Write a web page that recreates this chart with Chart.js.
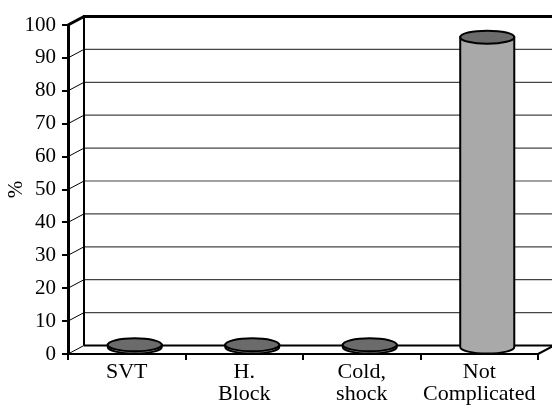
<!DOCTYPE html>
<html>
<head>
<meta charset="utf-8">
<script src="https://cdn.jsdelivr.net/npm/chart.js@4"></script>
<style>
  body { margin: 0; background: #fff; }
  canvas { display: block; }
</style>
</head>
<body>
<canvas id="myChart" width="552" height="406"></canvas>
<script>
const categories = [['SVT'], ['H.', 'Block'], ['Cold,', 'shock'], ['Not', 'Complicated']];
const percentValues = [1, 1, 1, 94.5];
const yMin = 0;
const yMax = 100;
const yStep = 10;

// depth of the 3d box (back wall offset)
const depthX = 16;
const depthY = -8.5;

// back wall, left wall and floor
const frame3d = {
  id: 'frame3d',
  beforeDatasetsDraw(chart) {
    const ctx = chart.ctx;
    const area = chart.chartArea;
    const y = chart.scales.y;
    const right = chart.width + 5;
    ctx.save();
    ctx.lineCap = 'butt';

    // gridlines on back wall + diagonals on left wall
    y.ticks.forEach(t => {
      const py = y.getPixelForValue(t.value);
      if (t.value > yMin && t.value < yMax) {
        ctx.strokeStyle = '#444';
        ctx.lineWidth = 1.2;
        ctx.beginPath();
        ctx.moveTo(area.left + depthX, py + depthY);
        ctx.lineTo(right, py + depthY);
        ctx.stroke();
      }
      ctx.strokeStyle = '#000';
      ctx.lineWidth = t.value === yMax ? 3 : 1;
      ctx.beginPath();
      ctx.moveTo(area.left, py);
      ctx.lineTo(area.left + depthX, py + depthY);
      ctx.stroke();
    });

    // back vertical edge of left wall
    ctx.strokeStyle = '#000';
    ctx.lineWidth = 2;
    ctx.beginPath();
    ctx.moveTo(area.left + depthX, area.top + depthY);
    ctx.lineTo(area.left + depthX, area.bottom + depthY);
    ctx.stroke();

    // top border of back wall
    ctx.lineWidth = 3;
    ctx.beginPath();
    ctx.moveTo(area.left + depthX - 1, area.top + depthY);
    ctx.lineTo(right, area.top + depthY);
    ctx.stroke();

    // floor back edge and right edge
    ctx.lineWidth = 2;
    ctx.beginPath();
    ctx.moveTo(area.left + depthX, area.bottom + depthY);
    ctx.lineTo(right, area.bottom + depthY);
    ctx.moveTo(area.right, area.bottom);
    ctx.lineTo(area.right + depthX, area.bottom + depthY);
    ctx.stroke();
    ctx.restore();
  }
};

// draws the bars as cylinders
const cylinders = {
  id: 'cylinders',
  afterDatasetsDraw(chart) {
    const ctx = chart.ctx;
    const meta = chart.getDatasetMeta(0);
    ctx.save();
    meta.data.forEach(bar => {
      const p = bar.getProps(['x', 'y', 'base', 'width'], true);
      const cx = p.x + depthX / 2;
      const rx = p.width / 2;
      const ry = 6.5;
      const topY = p.y + depthY * 0.7;
      const botY = p.base + depthY * 0.7;

      // body
      ctx.beginPath();
      ctx.moveTo(cx - rx, topY);
      ctx.lineTo(cx - rx, botY);
      ctx.ellipse(cx, botY, rx, ry, 0, Math.PI, 0, true);
      ctx.lineTo(cx + rx, topY);
      ctx.closePath();
      ctx.fillStyle = '#a9a9a9';
      ctx.fill();
      ctx.strokeStyle = '#000';
      ctx.lineWidth = 2;
      ctx.stroke();

      // top
      ctx.beginPath();
      ctx.ellipse(cx, topY, rx, ry, 0, 0, Math.PI * 2);
      ctx.fillStyle = '#6b6b6b';
      ctx.fill();
      ctx.stroke();
    });
    ctx.restore();
  }
};

new Chart(document.getElementById('myChart'), {
  type: 'bar',
  data: {
    labels: categories,
    datasets: [{
      label: '%',
      data: percentValues,
      backgroundColor: 'rgba(0,0,0,0)',
      borderWidth: 0,
      barPercentage: 0.46,
      categoryPercentage: 1
    }]
  },
  options: {
    responsive: false,
    animation: false,
    layout: {
      padding: { top: 25, right: 14, left: 0, bottom: 0 }
    },
    plugins: {
      legend: { display: false },
      tooltip: { enabled: false }
    },
    scales: {
      y: {
        min: yMin,
        max: yMax,
        ticks: {
          stepSize: yStep,
          color: '#000',
          padding: 6,
          font: { family: 'Liberation Serif', size: 21, lineHeight: 1 }
        },
        grid: {
          drawOnChartArea: false,
          tickLength: 6,
          color: '#000',
          lineWidth: 2
        },
        border: { color: '#000', width: 3 },
        title: {
          display: true,
          text: '%',
          color: '#000',
          padding: { top: 6, bottom: 0 },
          font: { family: 'Liberation Serif', size: 21, lineHeight: 1 }
        },
        afterFit(scale) { scale.width = 68; }
      },
      x: {
        ticks: {
          color: '#000',
          padding: 1,
          maxRotation: 0,
          autoSkip: false,
          font: { family: 'Liberation Serif', size: 22, lineHeight: 1 }
        },
        grid: {
          offset: true,
          drawOnChartArea: false,
          tickLength: 6,
          color: '#000',
          lineWidth: 2
        },
        border: { color: '#000', width: 2 },
        afterFit(scale) { scale.height = 52; }
      }
    }
  },
  plugins: [frame3d, cylinders]
});
</script>
</body>
</html>
